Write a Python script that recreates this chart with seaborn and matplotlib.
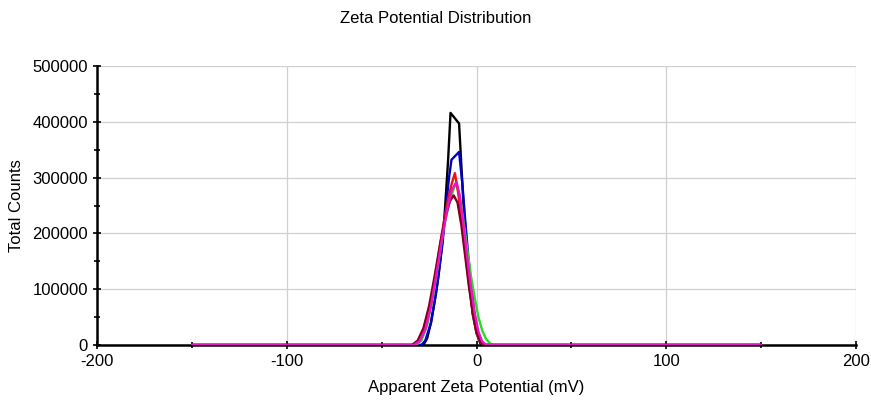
import matplotlib
matplotlib.use("Agg")
import matplotlib.pyplot as plt
from matplotlib.ticker import MultipleLocator
import pandas as pd
import seaborn as sns

# zeta potential (mV) / total counts for each run
black_x = [-150, -28, -26, -24, -22, -20, -18, -16.7, -15, -13.7, -9.2, -7, -5, -3.5, -2, 0, 2, 3.5, 150]
black_y = [0, 0, 12000, 40000, 80000, 125000, 185000, 240000, 330000, 416000, 397000, 260000, 170000, 104000, 55000, 21000, 3000, 0, 0]

blue_x = [-150, -29, -27, -24, -21, -18, -16, -14.5, -13.2, -9.2, -7.5, -6, -4.5, -3, -1.5, 0, 1.5, 3, 4.5, 150]
blue_y = [0, 0, 8000, 40000, 100000, 180000, 250000, 300000, 332000, 346000, 290000, 225000, 165000, 112000, 66000, 30000, 10000, 2000, 0, 0]

green_x = [-150, -32, -29, -26, -23, -20, -17, -14, -12, -11, -9, -7, -5, -3, -1, 1, 3, 5, 7, 9.5, 150]
green_y = [0, 0, 8000, 35000, 85000, 150000, 215000, 260000, 280000, 290000, 270000, 225000, 175000, 125000, 85000, 50000, 26000, 11000, 3000, 0, 0]

red_x = [-150, -33, -30, -27, -24, -21, -18, -15, -13, -11.4, -10, -8, -6, -4, -2, 0, 2, 4, 150]
red_y = [0, 0, 8000, 30000, 75000, 140000, 205000, 262000, 290000, 308000, 280000, 230000, 170000, 110000, 58000, 22000, 5000, 0, 0]

maroon_x = [-150, -34, -31, -28, -25, -22, -19, -16, -14, -12, -10, -8, -6, -4, -2, 0, 2, 4.5, 150]
maroon_y = [0, 0, 8000, 30000, 70000, 125000, 185000, 235000, 258000, 268000, 255000, 215000, 160000, 105000, 58000, 24000, 6000, 0, 0]

magenta_x = [-150, -33, -30, -27, -24, -21, -18, -15, -13, -10.5, -9, -7, -5, -3, -1, 1, 3, 5.3, 150]
magenta_y = [0, 0, 7000, 28000, 70000, 130000, 195000, 250000, 278000, 292000, 270000, 220000, 160000, 105000, 58000, 24000, 6000, 0, 0]

series = [
    ("black", black_x, black_y),
    ("blue", blue_x, blue_y),
    ("green", green_x, green_y),
    ("red", red_x, red_y),
    ("maroon", maroon_x, maroon_y),
    ("magenta", magenta_x, magenta_y),
]
colors = {"black": "#000000", "blue": "#0000cc", "green": "#22dd22",
          "red": "#ee1111", "maroon": "#800020", "magenta": "#ee11cc"}

frames = [pd.DataFrame({"mV": x, "counts": y, "run": name}) for name, x, y in series]
df = pd.concat(frames, ignore_index=True)

sns.set_style("white")
plt.rcParams["font.family"] = ["Liberation Sans", "DejaVu Sans"]
plt.rcParams["axes.unicode_minus"] = False
plt.rcParams["text.color"] = "black"
plt.rcParams["axes.labelcolor"] = "black"

fig = plt.figure(figsize=(8.71, 4.03), dpi=100)
ax = fig.add_axes([0.1114, 0.1439, 0.8714, 0.6923])

sns.lineplot(data=df, x="mV", y="counts", hue="run", palette=colors,
             estimator=None, sort=False, legend=False, linewidth=1.7, ax=ax)

ax.set_xlim(-200, 200)
ax.set_ylim(0, 500000)
ax.xaxis.set_major_locator(MultipleLocator(100))
ax.xaxis.set_minor_locator(MultipleLocator(50))
ax.yaxis.set_major_locator(MultipleLocator(100000))
ax.yaxis.set_minor_locator(MultipleLocator(50000))
ax.grid(True, which="major", color="#d0d0d0", linewidth=0.9)
ax.set_axisbelow(True)

for side in ["top", "right"]:
    ax.spines[side].set_visible(False)
for side in ["left", "bottom"]:
    ax.spines[side].set_color("black")
    ax.spines[side].set_linewidth(1.8)
    ax.spines[side].set_zorder(1)

ax.tick_params(which="major", direction="inout", length=6, width=1.2, colors="black", labelsize=12)
ax.tick_params(which="minor", direction="inout", length=5, width=1.2, colors="black")
ax.tick_params(axis="y", which="both", left=True)
ax.tick_params(axis="x", which="both", bottom=True)

ax.set_xlabel("Apparent Zeta Potential (mV)", fontsize=12, labelpad=8)
ax.set_ylabel("Total Counts", fontsize=12, labelpad=6)
fig.text(0.5, 0.955, "Zeta Potential Distribution", ha="center", va="center", fontsize=12)

fig.savefig("out.png", dpi=100)
